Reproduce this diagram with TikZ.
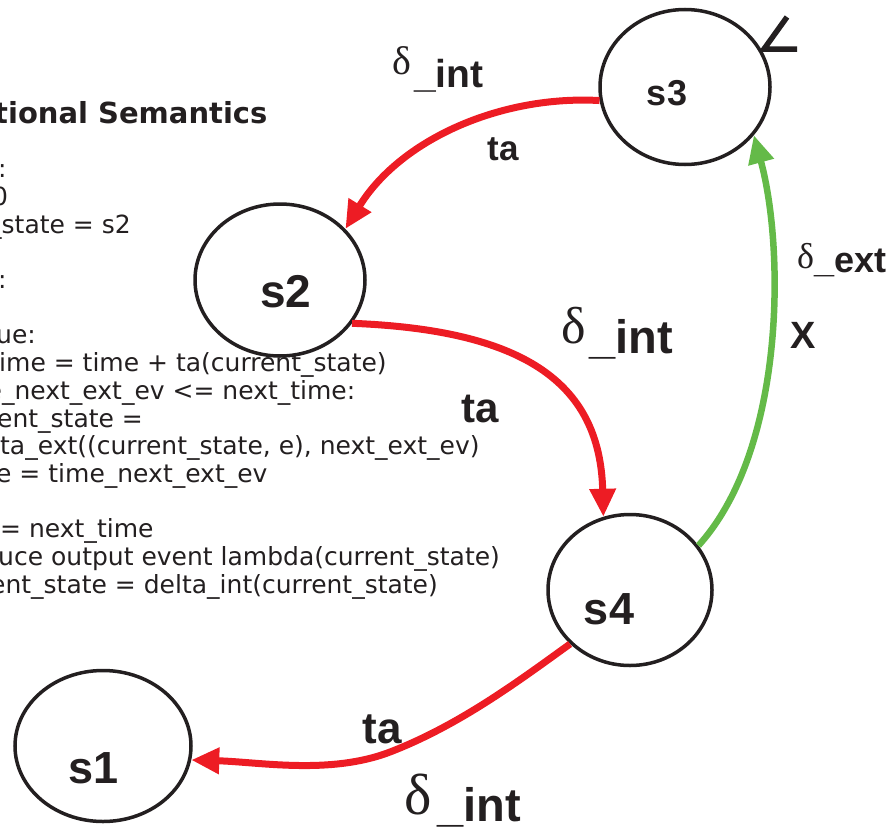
\documentclass[tikz,border=0pt]{standalone}
\usepackage{fontspec}
\setmainfont{Liberation Sans}
\newfontfamily\codefont{DejaVu Sans}
\newfontfamily\greekfont{Liberation Serif}
\usetikzlibrary{shapes.geometric,arrows.meta}

\definecolor{ink}{RGB}{35,31,32}
\definecolor{intred}{RGB}{237,28,36}
\definecolor{extgreen}{RGB}{100,186,72}

% size in pt, baselineskip the same
\newcommand{\fs}[1]{\fontsize{#1}{#1}\selectfont}
% delta label: delta size, raise, gap, text size, suffix
\newcommand{\dlab}[5]{\raisebox{#2pt}{\greekfont\mdseries\fs{#1}δ}\hspace{#3pt}{\fs{#4}\_#5}}

\tikzset{
  state/.style={ellipse, draw=ink, line width=3.5pt, inner sep=0pt},
  sname/.style={font=\bfseries, text=ink, inner sep=0pt, anchor=base},
  tr/.style={line width=7pt, draw=intred, -{Triangle[length=28pt,width=25pt]}},
  lab/.style={font=\bfseries, text=ink, inner sep=0pt},
  code/.style={font=\codefont\fs{25}, text=ink, inner sep=0pt, anchor=base west},
}

\begin{document}
\begin{tikzpicture}[x=1pt,y=-1pt]
\useasboundingbox (0,0) rectangle (896,827);
\clip (0,0) rectangle (896,827);

% simulator pseudo code, running off the left edge
\node[code, font=\codefont\bfseries\fs{29}] (title) at (-6,123) {tional Semantics};
\node[code] (c1) at (-2,177) {:};
\node[code] (c2) at (-8,205) {0};
\node[code] (c3) at (-11,233) {\_state = s2};
\node[code] (c4) at (-2,288) {:};
\node[code] (c5) at (-4,343) {ue:};
\node[code] (c6) at (-1,371) {ime = time + ta(current\_state)};
\node[code] (c7) at (-13.5,399) {e\_next\_ext\_ev <= next\_time:};
\node[code] (c8) at (-3,427) {ent\_state =};
\node[code] (c9) at (0,454) {ta\_ext((current\_state, e), next\_ext\_ev)};
\node[code] (c10) at (-4,482) {e = time\_next\_ext\_ev};
\node[code] (c11) at (0,537) {= next\_time};
\node[code] (c12) at (-2,565) {uce output event lambda(current\_state)};
\node[code] (c13) at (-10,593) {ent\_state = delta\_int(current\_state)};

% states
\node[state, minimum width=170pt, minimum height=155pt] (s3) at (685,87) {};
\node[state, minimum width=170pt, minimum height=152pt] (s2) at (280,280) {};
\node[state, minimum width=164pt, minimum height=151pt] (s4) at (630,590) {};
\node[state, minimum width=176pt, minimum height=151pt] (s1) at (103,746) {};
\node[sname] (n3) at (667,105) {\fs{36}s3};
\node[sname] (n2) at (286,307) {\fs{46}s2};
\node[sname] (n4) at (609,624) {\fs{45}s4};
\node[sname] (n1) at (94,783) {\fs{45}s1};
\draw[ink, line width=5.5pt] (787,17) -- (764,49) -- (797,49);

% transitions
\draw[tr] (s3.189) .. controls (500,95) and (400,140) .. (s2.38);
\draw[tr] (s2.-31) .. controls (520,330) and (600,380) .. (s4.110);
\draw[tr, draw=extgreen, line width=6.5pt] (s4.33) .. controls (785,450) and (785,250) .. (s3.-35);
\draw[tr] (s4.222) .. controls (520,680) and (460,725) .. (390,752)
  .. controls (330,775) and (260,762) .. (s1.-9);

% transition labels
\node[lab, anchor=base west] (d1) at (392,87) {\dlab{40}{13}{3}{39}{int}};
\node[lab, anchor=base] (t1) at (503,160) {\fs{35}ta};
\node[lab, anchor=base west] (d2) at (561,353) {\dlab{52}{10}{4}{47}{int}};
\node[lab, anchor=base] (t2) at (480,422) {\fs{42}ta};
\node[lab, anchor=base west] (d4) at (797,272) {\dlab{36}{4}{0}{36}{ext}};
\node[lab, anchor=base] (x1) at (803,348) {\fs{38}X};
\node[lab, anchor=base] (t3) at (382,743) {\fs{44}ta};
\node[lab, anchor=base west] (d3) at (404,821) {\dlab{58}{7}{6}{47}{int}};
\end{tikzpicture}
\end{document}
